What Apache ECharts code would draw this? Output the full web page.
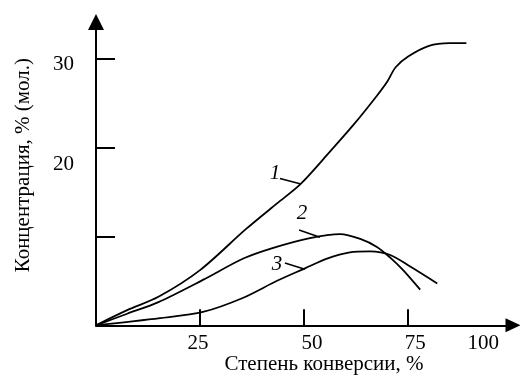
<!DOCTYPE html>
<html>
<head>
    <meta charset="utf-8">
    <title>ECharts</title>
    <script src="https://cdn.jsdelivr.net/npm/echarts@6/dist/echarts.min.js"></script>
</head>
<body style="margin:0;background:#fff;">
    <div id="main" style="width:520px;height:379px;"></div>
    <script type="text/javascript">
        var myChart = echarts.init(document.getElementById('main'));

        // кривые: [степень конверсии, концентрация]
        var curve1 = [[0,0],[7.5,1.7],[15,3.2],[25,6.2],[36,10.8],[43.5,13.7],[49,15.8],[56,19.4],[62,22.6],[67.5,25.8],[70,27.4],[72,29.0],[75,30.2],[80,31.4],[85,31.7],[89,31.7]];
        var curve2 = [[0,0],[7.5,1.3],[15,2.6],[25.7,5.1],[35.4,7.5],[42.6,8.7],[51.4,9.8],[58.7,10.25],[63.5,9.7],[67.5,8.8],[70.7,7.6],[73.8,6.2],[77.9,4.0]];
        var curve3 = [[0,0],[15.4,0.8],[25.7,1.5],[35.4,3.1],[43.5,5.0],[50.2,6.4],[55.5,7.5],[61,8.2],[65.9,8.3],[70.7,7.9],[75.5,6.6],[82,4.7]];

        var xTicks = [25, 50, 75];
        var xLabels = [25, 50, 75, 100];
        var yTicks = [10, 20, 30];
        var yLabels = [20, 30];

        // подписи кривых: текст, позиция текста, выноска
        var notes = [
            {text: '1', at: [43, 17.1], from: [44.2, 16.5], to: [49, 15.9]},
            {text: '2', at: [49.5, 12.6], from: [48.8, 10.7], to: [53.8, 9.9]},
            {text: '3', at: [43.5, 6.8], from: [45.4, 7.0], to: [50.2, 6.3]}
        ];

        var font = 'Liberation Serif';
        var fs = 21;

        function line(data) {
            return {
                type: 'line',
                data: data,
                smooth: 0.3,
                showSymbol: false,
                silent: true,
                lineStyle: {color: '#000', width: 1.8}
            };
        }

        option = {
            animation: false,
            grid: {left: 96, right: 7, top: 22, bottom: 53.7, outerBoundsMode: 'none', containLabel: false},
            xAxis: {
                type: 'value',
                min: 0,
                max: 100.2,
                name: 'Степень конверсии, %',
                nameLocation: 'middle',
                nameGap: 29,
                nameMoveOverlap: false,
                nameTextStyle: {fontFamily: font, fontSize: fs, color: '#000', padding: [0, 0, 0, 39]},
                axisLine: {lineStyle: {color: '#000', width: 2}, symbol: ['none', 'triangle'], symbolSize: [14, 15]},
                axisTick: {inside: true, length: 16, lineStyle: {color: '#000', width: 2}, customValues: xTicks},
                axisLabel: {
                    customValues: xLabels,
                    margin: 8,
                    fontFamily: font, fontSize: fs, color: '#000',
                    formatter: function (v) { return '{x' + v + '|' + v + '}'; },
                    rich: {
                        x25: {fontFamily: font, fontSize: fs, padding: [0, 4, 0, 0]},
                        x50: {fontFamily: font, fontSize: fs, padding: [0, 0, 0, 16]},
                        x75: {fontFamily: font, fontSize: fs, padding: [0, 0, 0, 14]},
                        x100: {fontFamily: font, fontSize: fs, padding: [0, 58, 0, 0]}
                    }
                },
                splitLine: {show: false}
            },
            yAxis: {
                type: 'value',
                min: 0,
                max: 34.08,
                name: 'Концентрация, % (мол.)',
                nameLocation: 'middle',
                nameGap: 62,
                nameMoveOverlap: false,
                nameTextStyle: {fontFamily: font, fontSize: fs, color: '#000', padding: [0, 0, 0, 17]},
                axisLine: {lineStyle: {color: '#000', width: 2}, symbol: ['none', 'triangle'], symbolSize: [16, 16]},
                axisTick: {inside: true, length: 19, lineStyle: {color: '#000', width: 2}, customValues: yTicks},
                axisLabel: {
                    customValues: yLabels,
                    margin: 22,
                    fontFamily: font, fontSize: fs, color: '#000',
                    formatter: function (v) { return '{y' + v + '|' + v + '}'; },
                    rich: {
                        y20: {fontFamily: font, fontSize: fs, padding: [34, 0, 0, 0]},
                        y30: {fontFamily: font, fontSize: fs, padding: [13, 0, 0, 0]}
                    }
                },
                splitLine: {show: false}
            },
            series: [line(curve1), line(curve2), line(curve3)]
        };

        myChart.setOption(option);

        // выноски и номера кривых
        var elements = [];
        notes.forEach(function (n) {
            var p = myChart.convertToPixel({gridIndex: 0}, n.at);
            var a = myChart.convertToPixel({gridIndex: 0}, n.from);
            var b = myChart.convertToPixel({gridIndex: 0}, n.to);
            elements.push({
                type: 'line',
                shape: {x1: a[0], y1: a[1], x2: b[0], y2: b[1]},
                style: {stroke: '#000', lineWidth: 1.6}
            });
            elements.push({
                type: 'text',
                x: p[0], y: p[1],
                style: {text: n.text, font: 'italic ' + fs + 'px "Liberation Serif"', fill: '#000', align: 'center', verticalAlign: 'middle'}
            });
        });
        myChart.setOption({graphic: elements});
    </script>
</body>
</html>
